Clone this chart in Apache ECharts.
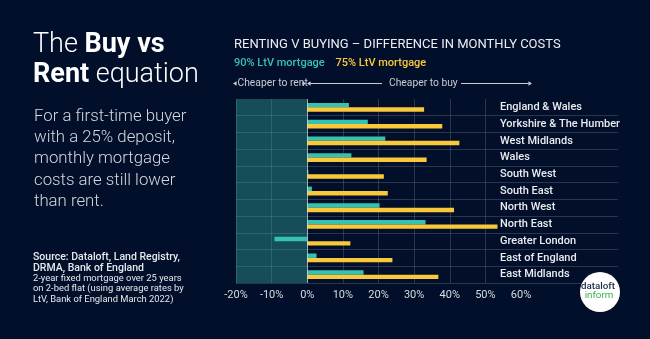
<!DOCTYPE html>
<html>
<head>
<meta charset="utf-8">
<script src="https://cdn.jsdelivr.net/npm/echarts@6/dist/echarts.min.js"></script>
<style>
html,body{margin:0;padding:0;background:#020f2a;}
#chart{width:650px;height:339px;}
</style>
</head>
<body>
<div id="chart"></div>
<script>
var categories = ['England & Wales','Yorkshire & The Humber','West Midlands','Wales','South West','South East','North West','North East','Greater London','East of England','East Midlands'];
var ltv90 = [11.7, 17.0, 21.9, 12.4, 0.3, 1.3, 20.3, 33.2, -9.2, 2.6, 15.8];
var ltv75 = [32.8, 37.9, 42.7, 33.5, 21.5, 22.6, 41.2, 53.4, 12.1, 23.9, 36.8];
var seriesNames = ['90% LtV mortgage', '75% LtV mortgage'];
var xTicks = { min: -20, max: 60, interval: 10 };

var TEAL = '#36c2b3', YELLOW = '#f9c93b', BG = '#020f2a';
var GRID_LINE = 'rgba(255,255,255,0.16)';
var NONE = 'rgba(0,0,0,0)';
var ANNOT = '#c8ccd3';
var FONT = 'Roboto, "Noto Sans", sans-serif';

var chart = echarts.init(document.getElementById('chart'), null, {renderer: 'canvas'});

function arrowHead(tipX, y, dir) {
  var bx = tipX - dir * 3.6;
  return { type: 'polygon', silent: true, shape: { points: [[tipX, y], [bx, y - 2.2], [bx, y + 2.2]] }, style: { fill: ANNOT } };
}
var AY = 83.5;

var rowLineColors = [NONE];
for (var i = 0; i < categories.length; i++) rowLineColors.push(GRID_LINE);
var colLineColors = [];
for (var v = xTicks.min; v < xTicks.max; v += xTicks.interval) colLineColors.push(GRID_LINE);
colLineColors.push(NONE);

var option = {
  backgroundColor: BG,
  animation: false,
  textStyle: { fontFamily: FONT },
  grid: [
    { left: 236, width: 285, top: 99, height: 184 },
    { left: 236, right: 32, top: 99, height: 184 }
  ],
  xAxis: [
    {
      type: 'value', gridIndex: 0, min: xTicks.min, max: xTicks.max, interval: xTicks.interval,
      axisLine: { show: false }, axisTick: { show: false },
      axisLabel: { formatter: '{value}%', color: '#d8dbe0', fontSize: 11, margin: 7, fontFamily: FONT },
      splitLine: { show: true, lineStyle: { width: 1, color: colLineColors } }
    },
    { type: 'value', gridIndex: 1, show: false, min: 0, max: 1 }
  ],
  yAxis: [
    {
      type: 'category', gridIndex: 0, data: categories, inverse: true, position: 'right',
      axisLine: { show: false }, axisTick: { show: false }, splitLine: { show: false },
      axisLabel: { color: '#e9ebef', fontSize: 11, fontWeight: 500, margin: -21, align: 'left', fontFamily: FONT }
    },
    {
      type: 'category', gridIndex: 1, data: categories, inverse: true,
      axisLine: { show: false }, axisTick: { show: false }, axisLabel: { show: false },
      splitLine: { show: true, lineStyle: { color: rowLineColors, width: 1 } }
    }
  ],
  series: [
    {
      name: seriesNames[0], type: 'bar', xAxisIndex: 0, yAxisIndex: 0, data: ltv90,
      barWidth: 4.4, barGap: '0%', itemStyle: { color: TEAL }, silent: true,
      markArea: { silent: true, itemStyle: { color: 'rgba(50,172,157,0.40)' }, data: [[{ xAxis: -20 }, { xAxis: 0 }]] },
      markLine: { silent: true, symbol: 'none', label: { show: false }, lineStyle: { color: 'rgba(255,255,255,0.55)', width: 1, type: 'solid' }, data: [{ xAxis: 0 }] }
    },
    {
      name: seriesNames[1], type: 'bar', xAxisIndex: 0, yAxisIndex: 0, data: ltv75,
      barWidth: 4.4, barGap: '0%', itemStyle: { color: YELLOW }, silent: true
    }
  ],
  graphic: [
    { type: 'text', left: 33, top: 30, silent: true, style: {
        text: '{l|The }{b|Buy vs}\n{b|Rent}{l| equation}', lineHeight: 30,
        rich: { l: { fontSize: 27, fontWeight: 300, fill: '#ffffff', fontFamily: FONT, lineHeight: 30 },
                b: { fontSize: 27, fontWeight: 'bold', fill: '#ffffff', fontFamily: FONT, lineHeight: 30 } } } },
    { type: 'text', left: 34, top: 106, silent: true, style: {
        text: 'For a first-time buyer\nwith a 25% deposit,\nmonthly mortgage\ncosts are still lower\nthan rent.',
        fontSize: 16.8, fontWeight: 300, lineHeight: 21.3, fill: '#d5d8de', fontFamily: FONT } },
    { type: 'text', left: 33, top: 252, silent: true, style: {
        text: '{b|Source: Dataloft, Land Registry,}\n{b|DRMA, Bank of England}\n{r|2-year fixed mortgage over 25 years}\n{r|on 2-bed flat (using average rates by}\n{r|LtV, Bank of England March 2022)}',
        rich: { b: { fontSize: 10.5, fontWeight: 500, fill: '#e6e8ec', lineHeight: 10.5, fontFamily: FONT },
                r: { fontSize: 9.4, fontWeight: 400, fill: '#e6e8ec', lineHeight: 10.5, fontFamily: FONT } } } },
    { type: 'text', left: 234, top: 38, silent: true, style: {
        text: 'RENTING V BUYING \u2013 DIFFERENCE IN MONTHLY COSTS', fontSize: 13, fontWeight: 400, fill: '#eceef2', fontFamily: FONT } },
    { type: 'text', x: 234, y: 63.5, silent: true, style: { text: seriesNames[0], fontSize: 11, fontWeight: 500, fill: TEAL, verticalAlign: 'middle', fontFamily: FONT } },
    { type: 'text', x: 335.5, y: 63.5, silent: true, style: { text: seriesNames[1], fontSize: 11, fontWeight: 500, fill: YELLOW, verticalAlign: 'middle', fontFamily: FONT } },
    { type: 'text', x: 237.5, y: AY, silent: true, style: { text: 'Cheaper to rent', fontSize: 10.3, fill: ANNOT, verticalAlign: 'middle', fontFamily: FONT } },
    { type: 'text', x: 389, y: AY, silent: true, style: { text: 'Cheaper to buy', fontSize: 10.3, fill: ANNOT, verticalAlign: 'middle', fontFamily: FONT } },
    arrowHead(233, AY, -1),
    arrowHead(306, AY, 1),
    arrowHead(307, AY, -1),
    { type: 'line', silent: true, shape: { x1: 310, y1: AY, x2: 382, y2: AY }, style: { stroke: ANNOT, lineWidth: 1 } },
    { type: 'line', silent: true, shape: { x1: 461, y1: AY, x2: 528.5, y2: AY }, style: { stroke: ANNOT, lineWidth: 1 } },
    arrowHead(532, AY, 1),
    { type: 'circle', silent: true, shape: { cx: 600, cy: 292, r: 20 }, style: { fill: '#ffffff' }, z: 100 },
    { type: 'text', x: 598, y: 286.5, silent: true, z: 101, style: { text: 'dataloft', fontSize: 9.8, fontWeight: 500, fill: '#1d2a47', align: 'center', verticalAlign: 'middle', fontFamily: FONT } },
    { type: 'text', x: 599, y: 295.5, silent: true, z: 101, style: { text: 'inform', fontSize: 9.8, fontWeight: 400, fill: '#3bb04a', align: 'center', verticalAlign: 'middle', fontFamily: FONT } }
  ]
};
chart.setOption(option);
</script>
</body>
</html>
